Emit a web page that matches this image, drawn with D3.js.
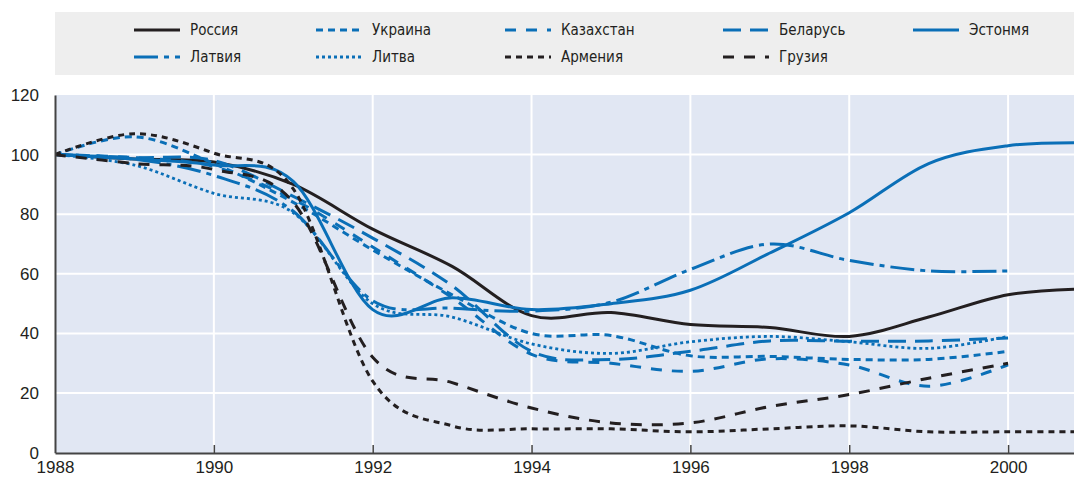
<!DOCTYPE html>
<html>
<head>
<meta charset="utf-8">
<script src="https://cdn.jsdelivr.net/npm/d3@7"></script>
<style>
  body { margin: 0; background: #fff; }
  svg { display: block; }
</style>
</head>
<body>
<div id="chart"></div>
<script>
let width = 1074, height = 479;
let margin = { top: 95, right: 0, bottom: 26, left: 55 };

// Годы и значения (1988 = 100)
const years = [1988, 1989, 1990, 1991, 1992, 1993, 1994, 1995, 1996, 1997, 1998, 1999, 2000, 2001];
const russia     = [100, 98.5, 97.5, 90, 75, 62.5, 46, 47, 43, 42, 39, 45.5, 53, 55];
const ukraine    = [100, 106, 97, 84, 68, 53, 40, 39.3, 32.5, 32.3, 31.3, 31.3, 34];
const kazakhstan = [100, 99, 96, 85, 69, 52, 33, 30, 27.3, 31.5, 29.4, 22.3, 29.5];
const belarus    = [100, 99, 98, 86, 72, 56, 34, 31.3, 34, 37.5, 37.4, 37.5, 38.5];
const estonia    = [100, 98.5, 96.5, 91, 48, 52, 48, 50, 54.5, 67, 80.5, 97, 103, 104];
const latvia     = [100, 98.5, 93, 81, 51, 48.5, 47.5, 50.5, 61.5, 70, 64.5, 61, 61];
const lithuania  = [100, 96.5, 87, 80.5, 50, 45.5, 36.5, 33.3, 37.2, 39, 37.2, 35, 39];
const armenia    = [100, 107, 100.5, 88.5, 24, 9, 8, 8, 7, 8, 9, 7, 7, 7];
const georgia    = [100, 97, 95, 84, 32, 23.5, 15, 10, 10, 15.5, 19.5, 25, 30];

const yTicks = [0, 20, 40, 60, 80, 100, 120];
const xTicks = [1988, 1990, 1992, 1994, 1996, 1998, 2000];

const blue = "#0a6fb7", black = "#231f20";

const series = [
  { name: "Россия",    values: russia,     color: black, dash: null },
  { name: "Украина",   values: ukraine,    color: blue,  dash: "7,5" },
  { name: "Казахстан", values: kazakhstan, color: blue,  dash: "11,10" },
  { name: "Беларусь",  values: belarus,    color: blue,  dash: "18,9" },
  { name: "Эстонмя",   values: estonia,    color: blue,  dash: null },
  { name: "Латвия",    values: latvia,     color: blue,  dash: "24,6,5,6" },
  { name: "Литва",     values: lithuania,  color: blue,  dash: "3,3", w: 2.8 },
  { name: "Армения",   values: armenia,    color: black, dash: "6,5" },
  { name: "Грузия",    values: georgia,    color: black, dash: "11,10" }
];

const svg = d3.select("#chart").append("svg")
    .attr("width", width).attr("height", height);

// Легенда
svg.append("rect").attr("x", 55).attr("y", 12).attr("width", width - 55).attr("height", 63)
    .attr("fill", "#eeeeee");

const legCols = [134, 316, 505, 723, 913];
const legRows = [30, 57];
series.forEach((s, i) => {
    const lx = legCols[i % 5], ly = legRows[Math.floor(i / 5)];
    svg.append("line").attr("x1", lx).attr("x2", lx + 46).attr("y1", ly).attr("y2", ly)
        .attr("stroke", s.color).attr("stroke-width", s.w || 3)
        .attr("stroke-dasharray", s.dash);
    svg.append("text").attr("x", lx + 56).attr("y", ly + 5)
        .attr("fill", black)
        .style("font-family", "'Liberation Sans Narrow', 'DejaVu Sans Condensed', sans-serif")
        .style("font-size", "15px")
        .text(s.name);
});

const innerWidth = width - margin.left - margin.right;
const innerHeight = height - margin.top - margin.bottom;

const x = d3.scaleLinear().domain([1988, 2000.83]).range([margin.left, margin.left + innerWidth]);
const y = d3.scaleLinear().domain([0, 120]).range([margin.top + innerHeight - 0.3, margin.top]);

// Фон
svg.append("rect").attr("x", margin.left).attr("y", margin.top)
    .attr("width", innerWidth).attr("height", innerHeight).attr("fill", "#e1e7f3");

// Сетка
svg.append("g").selectAll("line").data(yTicks.slice(1, -1)).enter().append("line")
    .attr("x1", margin.left).attr("x2", width)
    .attr("y1", d => y(d)).attr("y2", d => y(d))
    .attr("stroke", "#fff").attr("stroke-width", 2);
svg.append("g").selectAll("line").data(xTicks.slice(1)).enter().append("line")
    .attr("x1", d => x(d)).attr("x2", d => x(d))
    .attr("y1", margin.top).attr("y2", margin.top + innerHeight)
    .attr("stroke", "#fff").attr("stroke-width", 2);

svg.append("clipPath").attr("id", "clip").append("rect")
    .attr("x", margin.left).attr("y", margin.top - 10).attr("width", innerWidth).attr("height", innerHeight + 10);

const line = d3.line()
    .x((d, i) => x(years[i]))
    .y(d => y(d))
    .curve(d3.curveCardinal.tension(0));

const lines = svg.append("g").attr("clip-path", "url(#clip)");
series.forEach(s => {
    lines.append("path").datum(s.values)
        .attr("d", line)
        .attr("fill", "none")
        .attr("stroke", s.color)
        .attr("stroke-width", s.w || 3)
        .attr("stroke-dasharray", s.dash);
});

// Оси
const xAxis = svg.append("g").attr("transform", `translate(0, ${margin.top + innerHeight})`)
    .call(d3.axisBottom(x).tickValues(xTicks).tickFormat(d3.format("d")).tickSizeInner(-8).tickSizeOuter(0).tickPadding(8));
const yAxis = svg.append("g").attr("transform", `translate(${margin.left}, 0)`)
    .call(d3.axisLeft(y).tickValues(yTicks).tickSize(0).tickPadding(16));

[xAxis, yAxis].forEach(a => {
    a.select(".domain").attr("stroke", "#444").attr("stroke-width", 2);
    a.selectAll(".tick line").attr("stroke", "#444").attr("stroke-width", 1.5);
    a.selectAll("text").attr("fill", black)
        .style("font-family", "'Liberation Sans', Arial, sans-serif").style("font-size", "17px");
});
xAxis.select(".tick line").remove();
</script>
</body>
</html>
